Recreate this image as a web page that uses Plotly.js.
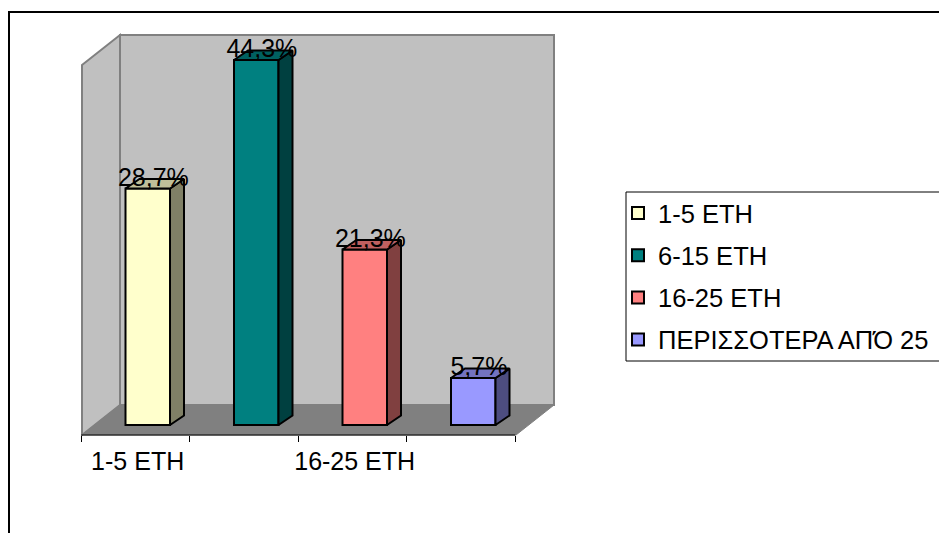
<!DOCTYPE html>
<html>
<head>
<meta charset="utf-8">
<script src="https://cdn.plot.ly/plotly-3.0.1.min.js"></script>
<style>html,body{margin:0;padding:0;background:#fff;overflow:hidden}#chart{width:939px;height:533px}</style>
</head>
<body>
<div id="chart"></div>
<script>
// Years-of-service distribution
const categories = ['1-5 ΕΤΗ', '6-15 ΕΤΗ', '16-25 ΕΤΗ', 'ΠΕΡΙΣΣΟΤΕΡΑ ΑΠΌ 25'];
const values = [28.7, 44.3, 21.3, 5.7];
const axisTickLabels = ['1-5 ΕΤΗ', '16-25 ΕΤΗ'];
const axisTickPositions = [0.02, 2.02];
const frontColors = ['#FFFFCC', '#008080', '#FF8080', '#9999FF'];
const sideColors = ['#808066', '#004040', '#804040', '#4D4D80'];
const topColors = ['#BFBF99', '#006060', '#BF6060', '#7373BF'];

const W = 939, H = 533;
// Canvas-wide linear scales: one category = 108.5px, one percent = 8.24px
const PX_PER_CAT = 108.5, PX_PER_PCT = 8.24, ORIGIN_X = 135.5, ORIGIN_Y = 425;
const xOf = px => (px - ORIGIN_X) / PX_PER_CAT;
const yOf = py => (ORIGIN_Y - py) / PX_PER_PCT;

// Pseudo-3D extrusion and bar placement inside each category slot
const DEPTH_X = 14 / PX_PER_CAT, DEPTH_Y = 9.5 / PX_PER_PCT;
const BAR_OFFSET = xOf(125.5), BAR_WIDTH = 44.5 / PX_PER_CAT;
const FONT = 'Liberation Sans, Arial, sans-serif';

const traces = [];
categories.forEach((name, i) => {
  traces.push({
    type: 'bar', name, x: [i], y: [values[i]], offset: BAR_OFFSET, width: BAR_WIDTH,
    legendgroup: name,
    marker: {color: frontColors[i], line: {color: '#000', width: 2}},
    hoverinfo: 'name+y'
  });
});
categories.forEach((name, i) => {
  const l = i + BAR_OFFSET, r = l + BAR_WIDTH, v = values[i];
  traces.push({
    type: 'scatter', mode: 'lines', showlegend: false, hoverinfo: 'skip', fill: 'toself',
    x: [r, r + DEPTH_X, r + DEPTH_X, r, r], y: [0, DEPTH_Y, v + DEPTH_Y, v, 0],
    fillcolor: sideColors[i], line: {color: '#000', width: 2}
  });
  traces.push({
    type: 'scatter', mode: 'lines', showlegend: false, hoverinfo: 'skip', fill: 'toself',
    x: [l, l + DEPTH_X, r + DEPTH_X, r, l], y: [v, v + DEPTH_Y, v + DEPTH_Y, v, v],
    fillcolor: topColors[i], line: {color: '#000', width: 2}
  });
});
// Value labels sit across the top of each bar
traces.push({
  type: 'scatter', mode: 'text', showlegend: false, hoverinfo: 'skip', cliponaxis: false,
  x: values.map((v, i) => i + 0.165),
  y: values.map(v => v + 1.1),
  text: values.map(v => v.toFixed(1).replace('.', ',') + '%'),
  textposition: 'middle center',
  textfont: {family: FONT, size: 25, color: '#000'}
});

const poly = pts => 'M' + pts.map(p => xOf(p[0]) + ',' + yOf(p[1])).join('L') + 'Z';
const shapes = [
  {type: 'path', xref: 'x', yref: 'y', layer: 'below', path: poly([[120, 35], [554, 35], [554, 405], [120, 405]]),
   fillcolor: '#C0C0C0', line: {color: '#808080', width: 2}},
  {type: 'path', xref: 'x', yref: 'y', layer: 'below', path: poly([[82, 65], [120, 35], [120, 405], [82, 435]]),
   fillcolor: '#C0C0C0', line: {color: '#808080', width: 2}},
  {type: 'path', xref: 'x', yref: 'y', layer: 'below', path: poly([[82, 435], [120, 405], [554, 405], [516, 435]]),
   fillcolor: '#808080', line: {color: '#808080', width: 1}},
  {type: 'line', xref: 'x', yref: 'y', layer: 'below', x0: -0.5, x1: 3.5, y0: yOf(435), y1: yOf(435),
   line: {color: '#000', width: 1}},
  // Chart frame runs off the right and bottom of the canvas
  {type: 'rect', xref: 'paper', yref: 'paper', layer: 'below', x0: 9 / W, x1: 1.02, y0: -0.02, y1: 1 - 12 / H,
   line: {color: '#000', width: 2}, fillcolor: 'rgba(0,0,0,0)'},
  // Legend box, also cut off by the right edge
  {type: 'rect', xref: 'paper', yref: 'paper', layer: 'below', x0: 626 / W, x1: 1.02, y0: 1 - 361 / H, y1: 1 - 192 / H,
   line: {color: '#000', width: 1}, fillcolor: '#fff'}
];

const layout = {
  width: W, height: H, showlegend: true, barmode: 'overlay',
  margin: {l: 0, r: 0, t: 0, b: 0, pad: 0, autoexpand: false},
  paper_bgcolor: '#fff', plot_bgcolor: 'rgba(0,0,0,0)',
  font: {family: FONT, color: '#000'},
  xaxis: {
    type: 'linear', range: [xOf(0), xOf(W)], domain: [0, 1], anchor: 'free', position: 1 - 435 / H,
    showgrid: false, zeroline: false, showline: false, fixedrange: true,
    tickmode: 'array', tickvals: axisTickPositions, ticktext: axisTickLabels, ticks: '',
    ticklabelstandoff: 9, tickfont: {family: FONT, size: 25, color: '#000'},
    minor: {tickmode: 'array', tickvals: [-0.5, 0.5, 1.5, 2.5, 3.5], ticks: 'outside', ticklen: 6, tickwidth: 1, tickcolor: '#000', showgrid: false}
  },
  yaxis: {visible: false, range: [yOf(H), yOf(0)], domain: [0, 1], fixedrange: true},
  legend: {
    x: 631 / W, xanchor: 'left', y: 1 - 190 / H, yanchor: 'top',
    bgcolor: 'rgba(0,0,0,0)', borderwidth: 0,
    font: {family: FONT, size: 25.5, color: '#000'},
    tracegroupgap: 6, indentation: -13, itemclick: false, itemdoubleclick: false
  },
  shapes
};
Plotly.newPlot('chart', traces, layout, {displayModeBar: false, staticPlot: true});
</script>
</body>
</html>
